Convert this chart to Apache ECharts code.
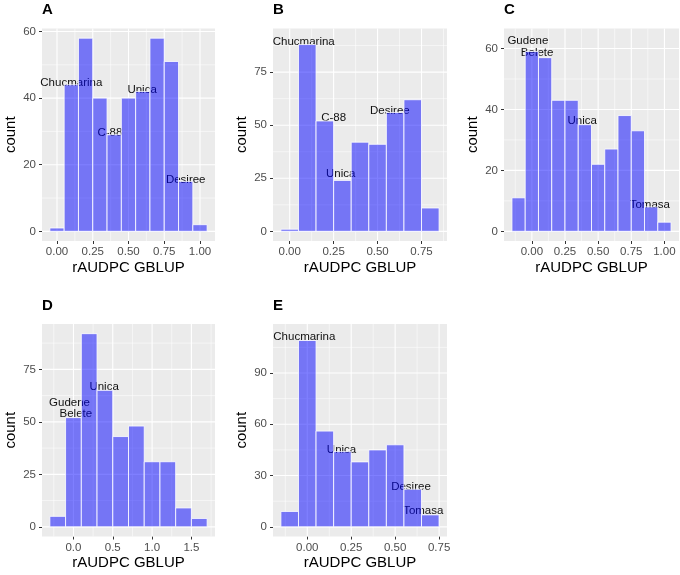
<!DOCTYPE html>
<html>
<head>
<meta charset="utf-8">
<script src="https://cdn.jsdelivr.net/npm/echarts@6/dist/echarts.min.js"></script>
<style>
html, body { margin: 0; padding: 0; background: #fff; }
#chart { width: 680px; height: 575px; }
</style>
</head>
<body>
<div id="chart"></div>
<script>
// A
const centersA = [0, 0.1, 0.2, 0.3, 0.4, 0.5, 0.6, 0.7, 0.8, 0.9, 1.0];
const countsA = [1, 44, 58, 40, 29, 40, 42, 58, 51, 15, 2];
const xTicksA = [0, 0.25, 0.5, 0.75, 1];
const yTicksA = [0, 20, 40, 60];
const namesA = ['Chucmarina', 'C-88', 'Unica', 'Desiree'];
const nameXA = [0.1, 0.37, 0.595, 0.9];
const nameYA = [44.7, 29.6, 42.4, 15.6];

// B
const centersB = [0, 0.1, 0.2, 0.3, 0.4, 0.5, 0.6, 0.7, 0.8];
const countsB = [1, 88, 52, 24, 42, 41, 56, 62, 11];
const xTicksB = [0, 0.25, 0.5, 0.75];
const yTicksB = [0, 25, 50, 75];
const namesB = ['Chucmarina', 'C-88', 'Unica', 'Desiree'];
const nameXB = [0.08, 0.25, 0.29, 0.57];
const nameYB = [89.4, 53.6, 26.9, 57];

// C
const centersC = [-0.1, 0, 0.1, 0.2, 0.3, 0.4, 0.5, 0.6, 0.7, 0.8, 0.9, 1.0];
const countsC = [11, 59, 57, 43, 43, 35, 22, 27, 38, 33, 8, 3];
const xTicksC = [0, 0.25, 0.5, 0.75, 1];
const yTicksC = [0, 20, 40, 60];
const namesC = ['Gudene', 'Belete', 'Unica', 'Tomasa'];
const nameXC = [-0.03, 0.04, 0.38, 0.89];
const nameYC = [62.4, 58.6, 36.3, 8.7];

// D
const centersD = [-0.2, 0, 0.2, 0.4, 0.6, 0.8, 1.0, 1.2, 1.4, 1.6];
const countsD = [5, 52, 92, 65, 43, 48, 31, 31, 9, 4];
const xTicksD = [0, 0.5, 1, 1.5];
const yTicksD = [0, 25, 50, 75];
const namesD = ['Gudene', 'Belete', 'Unica'];
const nameXD = [-0.05, 0.03, 0.39];
const nameYD = [59, 53.7, 66.6];

// E
const centersE = [-0.1, 0, 0.1, 0.2, 0.3, 0.4, 0.5, 0.6, 0.7];
const countsE = [9, 109, 56, 44, 38, 45, 48, 22, 7];
const xTicksE = [0, 0.25, 0.5, 0.75];
const yTicksE = [0, 30, 60, 90];
const namesE = ['Chucmarina', 'Unica', 'Desiree', 'Tomasa'];
const nameXE = [-0.017, 0.195, 0.59, 0.66];
const nameYE = [111, 45, 23.4, 9.3];

const font = 'Liberation Sans, Arial, sans-serif';

const panels = [
    { tag: 'A', centers: centersA, counts: countsA, bw: 0.1, xt: xTicksA, yt: yTicksA, names: namesA, nx: nameXA, ny: nameYA,
      xr: [-0.105, 1.105], yr: [-2.9, 60.9], left: 42, top: 28.5, width: 173, digits: 2 },
    { tag: 'B', centers: centersB, counts: countsB, bw: 0.1, xt: xTicksB, yt: yTicksB, names: namesB, nx: nameXB, ny: nameYB,
      xr: [-0.095, 0.895], yr: [-4.55, 95.55], left: 273, top: 28.5, width: 174, digits: 2 },
    { tag: 'C', centers: centersC, counts: countsC, bw: 0.1, xt: xTicksC, yt: yTicksC, names: namesC, nx: nameXC, ny: nameYC,
      xr: [-0.21, 1.11], yr: [-3.17, 66.57], left: 504, top: 28.5, width: 175, digits: 2 },
    { tag: 'D', centers: centersD, counts: countsD, bw: 0.2, xt: xTicksD, yt: yTicksD, names: namesD, nx: nameXD, ny: nameYD,
      xr: [-0.4, 1.8], yr: [-4.6, 96.6], left: 42, top: 324, width: 173, digits: 1 },
    { tag: 'E', centers: centersE, counts: countsE, bw: 0.1, xt: xTicksE, yt: yTicksE, names: namesE, nx: nameXE, ny: nameYE,
      xr: [-0.195, 0.795], yr: [-5.65, 118.65], left: 273, top: 324, width: 174, digits: 2 }
];
const panelHeight = 212.5;

// major lines at ticks, minor halfway between (and one step past each end if inside)
function gridLines(ticks, range, dim) {
    const out = [];
    const step = ticks[1] - ticks[0];
    ticks.forEach(t => out.push([t, 1, dim]));
    for (let i = -1; i < ticks.length; i++) {
        const m = ticks[0] + step * (i + 0.5);
        if (m > range[0] && m < range[1]) out.push([m, 0, dim]);
    }
    return out;
}

const grid = [], xAxis = [], yAxis = [], series = [], title = [];

panels.forEach((p, i) => {
    grid.push({
        left: p.left, top: p.top, width: p.width, height: panelHeight,
        show: true, backgroundColor: '#EBEBEB', borderWidth: 0
    });
    title.push({
        text: p.tag, left: p.left, top: p.top - 26, padding: 0,
        textStyle: { fontFamily: font, fontSize: 15, fontWeight: 'bold', color: '#000' }
    });
    xAxis.push({
        type: 'value', gridIndex: i, min: p.xr[0], max: p.xr[1],
        name: 'rAUDPC GBLUP', nameLocation: 'middle', nameGap: 19,
        nameTextStyle: { fontFamily: font, fontSize: 15, color: '#000' },
        axisLine: { show: false, onZero: false },
        axisTick: { show: true, length: 3, customValues: p.xt, lineStyle: { color: '#333333' } },
        axisLabel: { customValues: p.xt, margin: 5, fontFamily: font, fontSize: 11.5, color: '#4D4D4D',
            formatter: v => v.toFixed(p.digits) },
        splitLine: { show: false }
    });
    yAxis.push({
        type: 'value', gridIndex: i, min: p.yr[0], max: p.yr[1],
        name: 'count', nameLocation: 'middle', nameGap: 24,
        nameTextStyle: { fontFamily: font, fontSize: 15, color: '#000' },
        axisLine: { show: false, onZero: false },
        axisTick: { show: true, length: 3, customValues: p.yt, lineStyle: { color: '#333333' } },
        axisLabel: { customValues: p.yt, margin: 6, fontFamily: font, fontSize: 11.5, color: '#4D4D4D' },
        splitLine: { show: false }
    });

    const lines = gridLines(p.xt, p.xr, 0).concat(gridLines(p.yt, p.yr, 1));
    series.push({
        type: 'custom', xAxisIndex: i, yAxisIndex: i, silent: true, z: 1,
        data: lines,
        renderItem: (params, api) => {
            const cs = params.coordSys;
            const v = api.value(0), major = api.value(1), dim = api.value(2);
            let shape;
            if (dim === 0) {
                const x = api.coord([v, 0])[0];
                shape = { x1: x, y1: cs.y, x2: x, y2: cs.y + cs.height };
            } else {
                const y = api.coord([0, v])[1];
                shape = { x1: cs.x, y1: y, x2: cs.x + cs.width, y2: y };
            }
            return { type: 'line', shape: shape,
                style: { stroke: '#FFFFFF', lineWidth: major ? 1.1 : 0.55 } };
        }
    });

    // cultivar names sit under the translucent bars, as in the original
    series.push({
        type: 'custom', xAxisIndex: i, yAxisIndex: i, silent: true, z: 2,
        data: p.nx.map((x, j) => [x, p.ny[j]]),
        renderItem: (params, api) => {
            const pt = api.coord([api.value(0), api.value(1)]);
            return { type: 'text', x: pt[0], y: pt[1],
                style: { text: p.names[params.dataIndex], align: 'center', verticalAlign: 'middle',
                    fontFamily: font, fontSize: 11.5, fill: '#111' } };
        }
    });

    series.push({
        type: 'custom', xAxisIndex: i, yAxisIndex: i, silent: true, z: 3,
        data: p.centers.map((c, j) => [c, p.counts[j]]),
        renderItem: (params, api) => {
            const c = api.value(0), n = api.value(1);
            const a = api.coord([c - p.bw / 2, n]);
            const b = api.coord([c + p.bw / 2, 0]);
            return { type: 'rect',
                shape: { x: a[0], y: a[1], width: b[0] - a[0], height: b[1] - a[1] },
                style: { fill: 'rgba(0,0,255,0.5)', stroke: 'rgba(255,255,255,0.8)', lineWidth: 1 } };
        }
    });
});

const chart = echarts.init(document.getElementById('chart'));
chart.setOption({
    backgroundColor: '#FFFFFF',
    animation: false,
    title: title,
    grid: grid,
    xAxis: xAxis,
    yAxis: yAxis,
    series: series
});
</script>
</body>
</html>
